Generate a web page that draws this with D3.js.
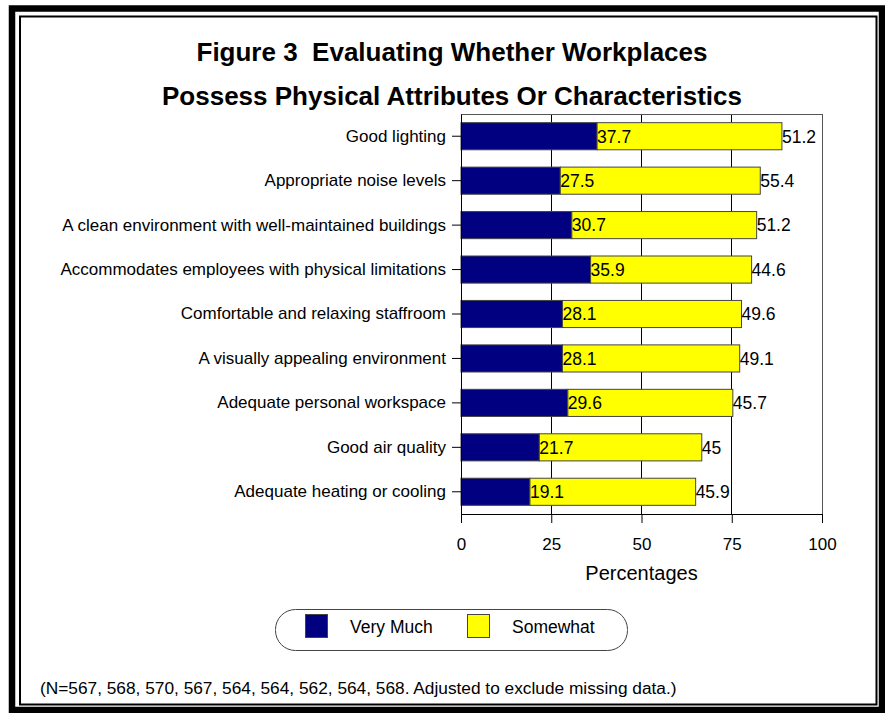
<!DOCTYPE html>
<html>
<head>
<meta charset="utf-8">
<script src="https://cdn.jsdelivr.net/npm/d3@7"></script>
<style>
  html, body { margin: 0; padding: 0; background: #fff; }
  svg { display: block; }
  text { font-family: "Liberation Sans", Arial, sans-serif; fill: #000; }
</style>
</head>
<body>
<svg id="chart" width="885" height="713"></svg>
<script>
// Workplace physical attributes survey results
const categories = [
  "Good lighting",
  "Appropriate noise levels",
  "A clean environment with well-maintained buildings",
  "Accommodates employees with physical limitations",
  "Comfortable and relaxing staffroom",
  "A visually appealing environment",
  "Adequate personal workspace",
  "Good air quality",
  "Adequate heating or cooling"
];
const veryMuch = [37.7, 27.5, 30.7, 35.9, 28.1, 28.1, 29.6, 21.7, 19.1];
const somewhat = [51.2, 55.4, 51.2, 44.6, 49.6, 49.1, 45.7, 45, 45.9];
const seriesNames = ["Very Much", "Somewhat"];
const seriesColors = ["#000080", "#FFFF00"];
const xTicks = [0, 25, 50, 75, 100];
const titleLines = ["Figure 3  Evaluating Whether Workplaces", "Possess Physical Attributes Or Characteristics"];
const xTitle = "Percentages";
const footnote = "(N=567, 568, 570, 567, 564, 564, 562, 564, 568. Adjusted to exclude missing data.)";

const svg = d3.select("#chart");

// double frame: heavy outer rule, thin inner rule
svg.append("rect").attr("x", 12).attr("y", 8.5).attr("width", 870).attr("height", 701.5)
  .attr("fill", "none").attr("stroke", "#000").attr("stroke-width", 6.5);
svg.append("rect").attr("x", 20).attr("y", 16.5).attr("width", 856.5).attr("height", 688)
  .attr("fill", "none").attr("stroke", "#000").attr("stroke-width", 2);

// title
svg.selectAll("text.title").data(titleLines).join("text")
  .attr("class", "title")
  .attr("x", 452).attr("y", (d, i) => 61 + i * 44)
  .attr("text-anchor", "middle")
  .style("white-space", "pre")
  .style("font-weight", "bold").style("font-size", "26px")
  .text(d => d);

const plot = { left: 461, right: 822, top: 114, bottom: 514 };
const x = d3.scaleLinear().domain([0, 100]).range([plot.left, plot.right]);
const y = d3.scaleBand().domain(categories).range([plot.top, plot.bottom]).paddingInner(0.39).paddingOuter(0.195);

const g = svg.append("g");

// gridlines
g.selectAll("line.grid").data(xTicks.slice(1, -1)).join("line")
  .attr("x1", d => x(d)).attr("x2", d => x(d))
  .attr("y1", plot.top).attr("y2", plot.bottom)
  .attr("stroke", "#000").attr("stroke-width", 1).attr("shape-rendering", "crispEdges");

// plot frame
g.append("rect").attr("x", plot.left).attr("y", plot.top)
  .attr("width", plot.right - plot.left).attr("height", plot.bottom - plot.top)
  .attr("fill", "none").attr("stroke", "#555").attr("stroke-width", 1).attr("shape-rendering", "crispEdges");

// stacked bars
const rows = categories.map((c, i) => ({ c, v: veryMuch[i], s: somewhat[i] }));
const bars = g.selectAll("g.row").data(rows).join("g").attr("class", "row");
bars.append("rect")
  .attr("x", d => x(0)).attr("y", d => y(d.c))
  .attr("width", d => x(d.v) - x(0)).attr("height", y.bandwidth())
  .attr("fill", seriesColors[0]).attr("stroke", "#444").attr("stroke-width", 1);
bars.append("rect")
  .attr("x", d => x(d.v)).attr("y", d => y(d.c))
  .attr("width", d => x(d.v + d.s) - x(d.v)).attr("height", y.bandwidth())
  .attr("fill", seriesColors[1]).attr("stroke", "#444").attr("stroke-width", 1);
// value labels
bars.append("text")
  .attr("x", d => x(d.v)).attr("y", d => y(d.c) + y.bandwidth() / 2)
  .attr("dy", "0.36em").style("font-size", "17.5px")
  .text(d => d.v);
bars.append("text")
  .attr("x", d => x(d.v + d.s)).attr("y", d => y(d.c) + y.bandwidth() / 2)
  .attr("dy", "0.36em").style("font-size", "17.5px")
  .text(d => d.s);

// y axis
const yAxis = svg.append("g").attr("transform", `translate(${plot.left},0)`)
  .call(d3.axisLeft(y).tickSize(9).tickSizeOuter(0).tickPadding(6));
yAxis.select(".domain").attr("stroke", "#000");
yAxis.selectAll("text").style("font-size", "17px").style("font-family", "\"Liberation Sans\", Arial, sans-serif");

// x axis
const xAxis = svg.append("g").attr("transform", `translate(0,${plot.bottom})`)
  .call(d3.axisBottom(x).tickValues(xTicks).tickSize(9).tickSizeOuter(0).tickPadding(15));
xAxis.select(".domain").attr("stroke", "#000");
xAxis.selectAll("text").style("font-size", "17px").style("font-family", "\"Liberation Sans\", Arial, sans-serif");

svg.append("text").attr("x", x(50)).attr("y", 580).attr("text-anchor", "middle")
  .style("font-size", "20px").text(xTitle);

// legend
const lg = svg.append("g");
lg.append("rect").attr("x", 275.5).attr("y", 609.5).attr("width", 352).attr("height", 41)
  .attr("rx", 20).attr("ry", 20).attr("fill", "#fff").attr("stroke", "#444");
const legendItems = [
  { name: seriesNames[0], color: seriesColors[0], sx: 305, tx: 350 },
  { name: seriesNames[1], color: seriesColors[1], sx: 467, tx: 512 }
];
lg.selectAll("rect.sw").data(legendItems).join("rect").attr("class", "sw")
  .attr("x", d => d.sx + 0.5).attr("y", 614.5).attr("width", 22).attr("height", 23)
  .attr("fill", d => d.color).attr("stroke", "#444");
lg.selectAll("text.lt").data(legendItems).join("text").attr("class", "lt")
  .attr("x", d => d.tx).attr("y", 627).attr("dy", "0.36em")
  .style("font-size", "17.5px").text(d => d.name);

// footnote
svg.append("text").attr("x", 40).attr("y", 694).style("font-size", "17.3px").text(footnote);
</script>
</body>
</html>
